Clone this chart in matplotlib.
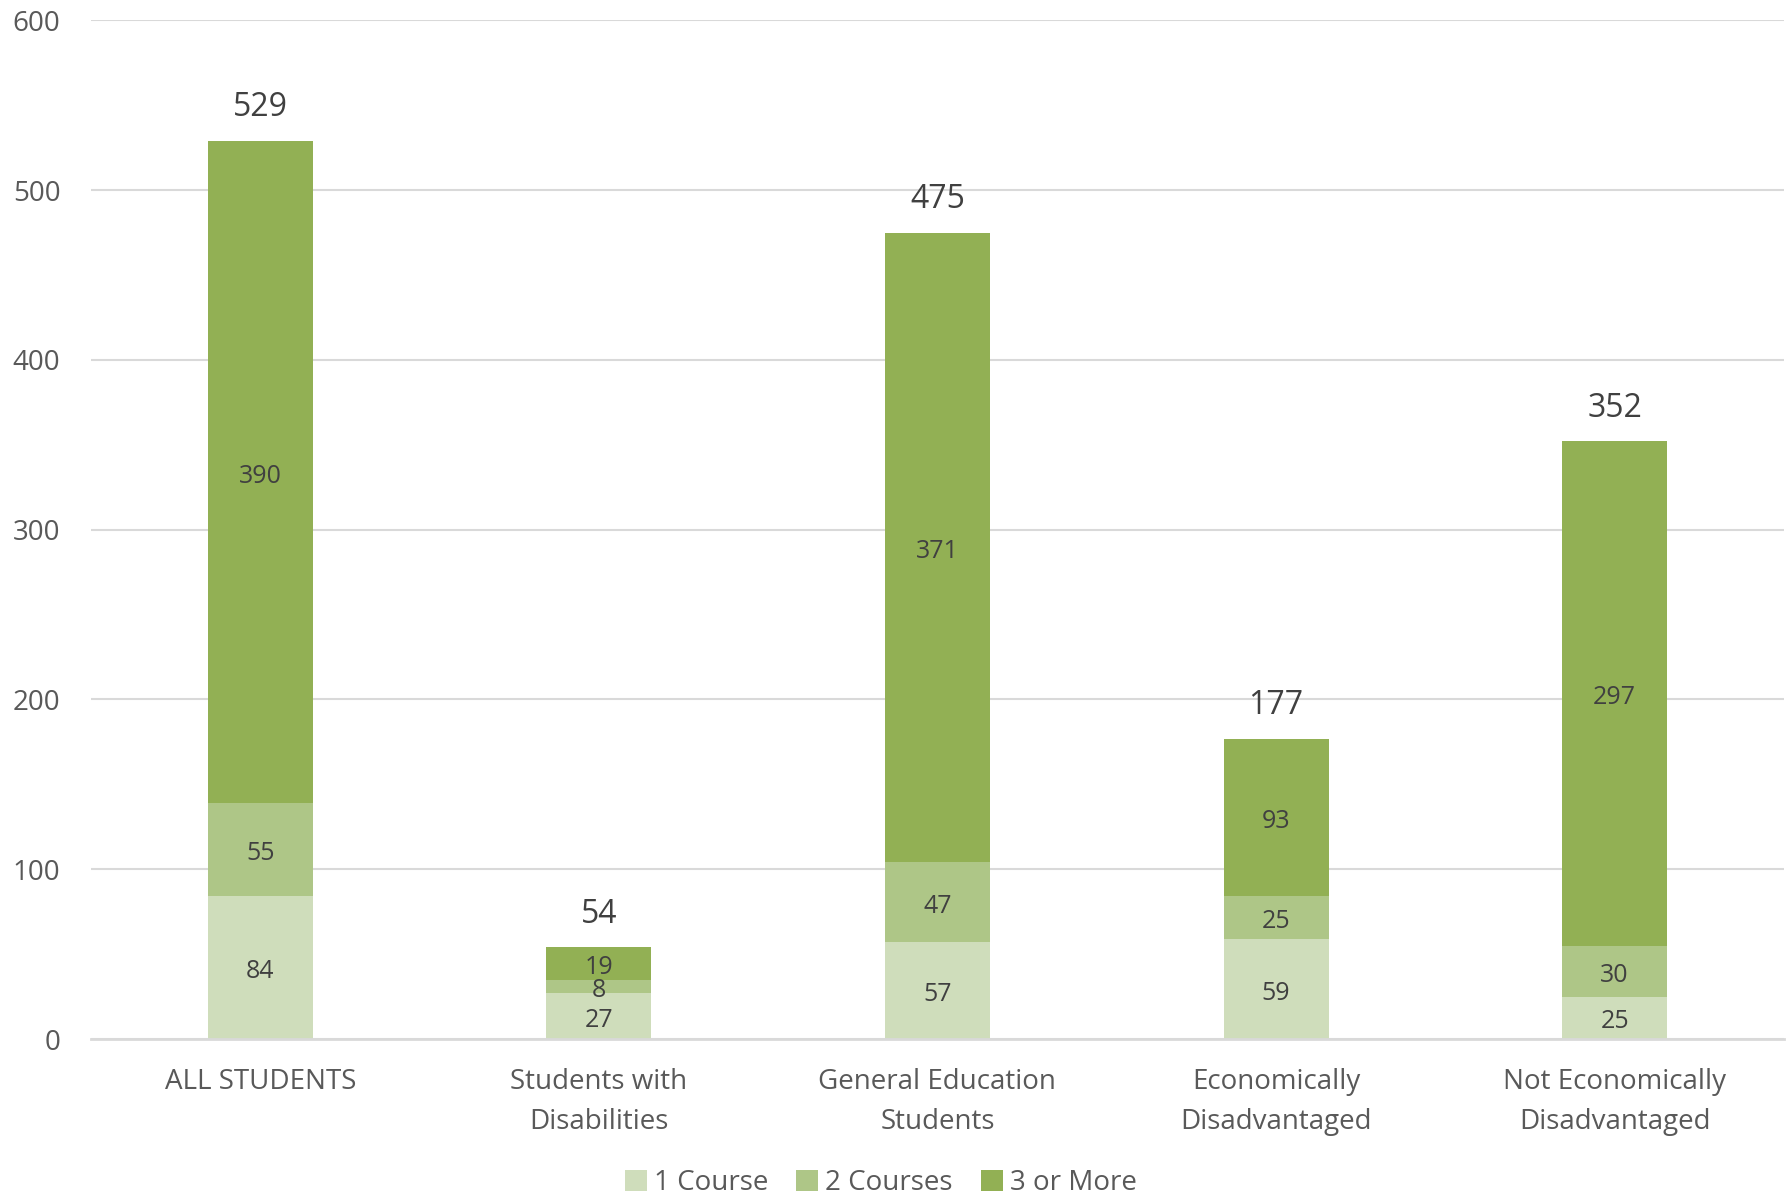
import matplotlib
matplotlib.use("Agg")
import matplotlib.pyplot as plt
import numpy as np

plt.rcParams['font.family'] = ['Open Sans', 'DejaVu Sans']

categories = ["ALL STUDENTS", "Students with\nDisabilities", "General Education\nStudents",
              "Economically\nDisadvantaged", "Not Economically\nDisadvantaged"]
one_course = [84, 27, 57, 59, 25]
two_courses = [55, 8, 47, 25, 30]
three_more = [390, 19, 371, 93, 297]
totals = [529, 54, 475, 177, 352]
series_names = ["1 Course", "2 Courses", "3 or More"]
colors = ["#CFDDBB", "#AEC687", "#92B054"]

fig = plt.figure(figsize=(17.9, 11.99), dpi=100)
ax = fig.add_axes([0.0508, 0.1334, 0.9458, 0.8496])

x = np.arange(len(categories))
w = 0.31
bottom = np.zeros(len(categories))
for vals, col, name in zip([one_course, two_courses, three_more], colors, series_names):
    ax.bar(x, vals, w, bottom=bottom, color=col, label=name, zorder=2)
    for xi, b, v in zip(x, bottom, vals):
        ax.annotate(str(v), (xi, b + v / 2), xytext=(0, -3), textcoords='offset points',
                    ha='center', va='center', fontsize=18, color='#404040', zorder=3)
    bottom = bottom + np.array(vals)

for xi, t in zip(x, totals):
    ax.annotate(str(t), (xi, t), xytext=(0, 12), textcoords='offset points',
                ha='center', va='bottom', fontsize=23, color='#404040')

ax.set_xlim(-0.5, len(categories) - 0.5)
ax.set_ylim(0, 600)
ax.set_yticks(range(0, 601, 100))
ax.yaxis.grid(True, color='#D9D9D9', linewidth=1.5, zorder=0)
ax.set_axisbelow(True)
for s in ['top', 'right', 'left']:
    ax.spines[s].set_visible(False)
ax.spines['bottom'].set_color('#D9D9D9')
ax.spines['bottom'].set_linewidth(2)
ax.tick_params(axis='both', length=0, labelsize=20, labelcolor='#595959')
ax.tick_params(axis='y', pad=22)
ax.tick_params(axis='x', pad=21)
ax.set_xticks(x)
ax.set_xticklabels(categories, linespacing=1.55)

leg = fig.legend(loc='center', bbox_to_anchor=(0.492, 0.0135), ncol=3, frameon=False,
                 fontsize=20, handlelength=0.8, handleheight=0.8, handletextpad=0.25,
                 columnspacing=1.0, borderpad=0)
for t in leg.get_texts():
    t.set_color('#595959')

fig.savefig("out.png", dpi=100)
